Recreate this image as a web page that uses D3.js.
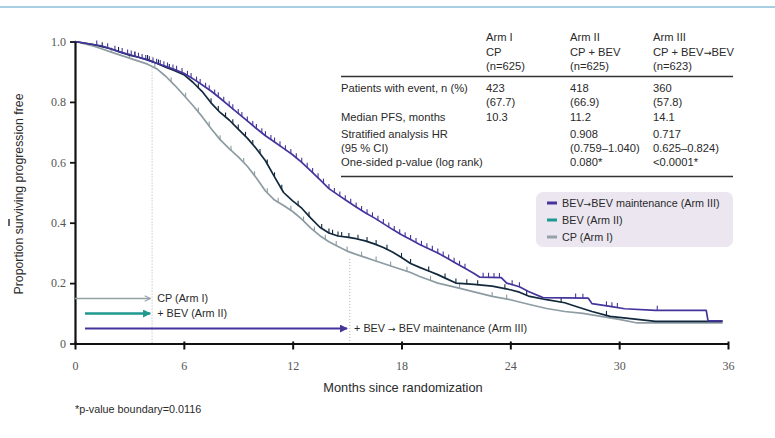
<!DOCTYPE html>
<html><head><meta charset="utf-8">
<script src="https://cdn.jsdelivr.net/npm/d3@7"></script>
<style>
body{margin:0;background:#fff;}
svg{display:block;}
.nar{font-family:"Liberation Sans Narrow","Arial Narrow","Liberation Sans",sans-serif;fill:#2a2a2a;}
.ser{font-family:"Liberation Serif","DejaVu Serif",serif;fill:#555;}
.arr{font-family:"DejaVu Sans",sans-serif;font-size:0.85em;}
</style></head><body>
<svg id="c" width="775" height="438"></svg>
<script>
// ---------- data ----------
const xTicks = [0, 6, 12, 18, 24, 30, 36];
const yTicks = [0, 0.2, 0.4, 0.6, 0.8, 1.0];
const yTickLabels = ["0", "0.2", "0.4", "0.6", "0.8", "1.0"];

const armIII = [[0,1.0],[0.5,0.995],[1,0.99],[1.5,0.985],[2,0.975],[2.5,0.965],[3,0.957],[3.5,0.948],[4,0.938],[4.5,0.928],[5,0.918],[5.5,0.907],[6,0.895],[6.5,0.877],[7,0.857],[7.5,0.836],[8,0.812],[8.5,0.787],[9,0.762],[9.5,0.737],[10,0.712],[10.5,0.688],[11,0.667],[11.5,0.646],[12,0.625],[12.5,0.6],[13,0.572],[13.5,0.543],[14,0.513],[14.5,0.492],[15,0.472],[15.5,0.452],[16,0.433],[16.5,0.416],[17,0.397],[17.5,0.378],[18,0.36],[18.5,0.344],[19,0.328],[19.5,0.314],[20,0.3],[20.5,0.283],[21,0.266],[21.5,0.249],[22,0.232],[22.3,0.22],[23.5,0.218],[23.8,0.2],[24.5,0.188],[25,0.172],[25.8,0.152],[28.3,0.15],[28.5,0.132],[29.6,0.122],[30.3,0.115],[32,0.11],[34.8,0.11],[34.9,0.075],[35.7,0.075]];
const armII = [[0,1.0],[0.5,0.995],[1,0.99],[1.5,0.983],[2,0.975],[2.5,0.965],[3,0.955],[3.5,0.948],[4,0.94],[4.5,0.928],[5,0.915],[5.5,0.903],[6,0.89],[6.5,0.865],[7,0.835],[7.5,0.797],[8,0.765],[8.5,0.74],[9,0.71],[9.5,0.68],[10,0.645],[10.5,0.605],[11,0.552],[11.5,0.5],[12,0.472],[12.5,0.448],[13,0.415],[13.5,0.385],[14,0.366],[14.5,0.356],[15,0.352],[15.5,0.347],[16,0.34],[16.5,0.33],[17,0.318],[17.5,0.303],[18,0.285],[18.5,0.265],[19,0.252],[19.5,0.24],[20,0.228],[20.5,0.214],[21,0.2],[22,0.196],[23,0.19],[24,0.178],[24.5,0.17],[25,0.157],[26,0.145],[27,0.135],[27.5,0.125],[28.5,0.106],[29.5,0.09],[31,0.08],[32,0.073],[35.7,0.073]];
const armI = [[0,1.0],[0.5,0.993],[1,0.985],[1.5,0.975],[2,0.965],[2.5,0.955],[3,0.945],[3.5,0.935],[4,0.925],[4.5,0.91],[5,0.885],[5.5,0.855],[6,0.822],[6.5,0.788],[7,0.752],[7.5,0.712],[8,0.675],[8.5,0.645],[9,0.618],[9.5,0.587],[10,0.548],[10.5,0.505],[11,0.475],[11.5,0.457],[12,0.437],[12.5,0.412],[13,0.382],[13.5,0.357],[14,0.337],[14.5,0.321],[15,0.306],[15.5,0.295],[16,0.285],[16.5,0.275],[17,0.265],[17.5,0.255],[18,0.245],[18.5,0.235],[19,0.222],[19.5,0.211],[20,0.2],[21,0.186],[22,0.171],[23,0.156],[24,0.145],[25,0.13],[26,0.116],[27,0.106],[28,0.1],[29,0.09],[30,0.08],[31,0.068],[35.7,0.068]];

const censorIII = [1.2,1.8,2.2,2.6,2.9,3.1,3.3,3.5,3.7,3.9,4.1,4.3,4.5,4.7,4.9,5.1,5.4,5.6,5.9,6.2,6.4,6.7,6.9,7.2,7.4,7.7,7.9,8.2,8.5,8.7,9.0,9.2,9.5,9.8,10.0,10.3,10.5,10.8,11.0,11.3,11.6,11.9,12.2,12.5,12.8,13.1,13.4,13.7,14.0,14.3,14.6,14.9,15.2,15.5,15.8,16.1,16.4,16.7,17.0,17.3,17.6,17.9,18.2,18.5,18.8,19.1,19.4,19.7,20.0,20.3,20.6,20.9,21.2,21.5,22.5,22.8,23.1,23.4,24.1,24.5,27.6,28.0,29.3,29.6,29.9,32.1];
const censorII = [1.5,2.4,3.3,4.0,4.6,5.2,6.8,7.5,7.9,8.3,8.7,9.0,9.4,9.8,10.2,10.6,11.0,11.4,12.3,12.9,13.6,14.0,14.2,14.5,14.7,15.1,15.6,16.1,16.6,17.2,18.0,18.5,19.5,20.4,21.0,21.6,22.2,23.7,24.9,26.8,29.3];
const censorI = [2.0,3.0,4.4,5.3,6.1,6.8,7.4,8.0,8.6,9.3,9.9,10.6,11.2,11.9,12.6,13.2,13.8,14.4,15.0,15.8,16.6,17.4,18.3,19.6,21.2,23.0,23.8,29.3];

const tableHeads = [["Arm I","CP","(n=625)"],["Arm II","CP + BEV","(n=625)"],["Arm III","CP + BEV\u2192BEV","(n=623)"]];
const rowLabels = [["Patients with event, n (%)"],["Median PFS, months"],["Stratified analysis HR","(95 % CI)"],["One-sided p-value (log rank)"]];
const rowValues = [
  [["423","(67.7)"],["418","(66.9)"],["360","(57.8)"]],
  [["10.3"],["11.2"],["14.1"]],
  [[],["0.908","(0.759\u20131.040)"],["0.717","0.625\u20130.824)"]],
  [[],["0.080*"],["<0.0001*"]]
];
const legendLabels = ["BEV\u2192BEV maintenance (Arm III)","BEV (Arm II)","CP (Arm I)"];
const cycleArrows = [
  {label:"CP (Arm I)", start:0, end:4.15},
  {label:"+ BEV (Arm II)", start:0.55, end:4.15},
  {label:"+ BEV \u2192 BEV maintenance (Arm III)", start:0.55, end:15.0}
];
const guideTimes = [4.25, 15.15];
const guideTops = [0.95, 0.28];

// ---------- drawing ----------
const svg = d3.select("#c");
const x = d3.scaleLinear().domain([0,36]).range([75,728]);
const y = d3.scaleLinear().domain([0,1]).range([343.5,41.5]);
const colIII = "#44359c", colII = "#12293d", colI = "#8d9ca2";
const colTeal = "#1f9990", colLegGray = "#95a3a8";

// text helper: renders the → glyph in a font that draws it well
function richText(sel, str){
  const parts = str.split("\u2192");
  parts.forEach((p,i)=>{
    if(i>0) sel.append("tspan").attr("class","arr").text("\u2192");
    sel.append("tspan").text(p);
  });
  return sel;
}

// top rule
svg.append("line").attr("x1",0).attr("x2",775).attr("y1",7).attr("y2",7)
  .attr("stroke","#a9cde3").attr("stroke-width",2);

// guide dotted lines
guideTimes.forEach((t,i)=>{
  svg.append("line").attr("x1",x(t)).attr("x2",x(t)).attr("y1",y(guideTops[i])).attr("y2",y(0))
    .attr("stroke","#9a9a9a").attr("stroke-width",0.8).attr("stroke-dasharray","1,2");
});

// curves
const line = d3.line().x(d=>x(d[0])).y(d=>y(d[1])).curve(d3.curveLinear);
const arms = [{d:armI,c:colI,cen:censorI},{d:armII,c:colII,cen:censorII},{d:armIII,c:colIII,cen:censorIII}];
arms.forEach(a=>{
  svg.append("path").datum(a.d).attr("d",line).attr("fill","none")
    .attr("stroke",a.c).attr("stroke-width",1.7).attr("stroke-linejoin","round");
  const bis = d3.bisector(d=>d[0]).right;
  const valAt = t=>{const i=bis(a.d,t); const p0=a.d[Math.max(0,i-1)], p1=a.d[Math.min(a.d.length-1,i)];
    if(p1[0]===p0[0]) return p0[1]; return p0[1]+(p1[1]-p0[1])*(t-p0[0])/(p1[0]-p0[0]);};
  svg.append("g").selectAll("line").data(a.cen).join("line")
    .attr("x1",d=>x(d)).attr("x2",d=>x(d))
    .attr("y1",d=>y(valAt(d))-4.5).attr("y2",d=>y(valAt(d))+0.5)
    .attr("stroke",a.c).attr("stroke-width",1.1);
});

// axes
const xAxis = svg.append("g").attr("transform",`translate(0,${y(0)})`)
  .call(d3.axisBottom(x).tickValues(xTicks).tickSize(6).tickSizeOuter(0).tickPadding(12));
xAxis.select(".domain").attr("stroke","#111").attr("stroke-width",2.2);
xAxis.selectAll(".tick line").attr("stroke","#111").attr("stroke-width",2).attr("y1",-2);
xAxis.selectAll(".tick text").attr("class","ser").attr("font-size",12);

const yAxis = svg.append("g").attr("transform",`translate(${x(0)},0)`)
  .call(d3.axisLeft(y).tickValues(yTicks).tickSize(5).tickSizeOuter(0).tickPadding(4)
    .tickFormat((d,i)=>yTickLabels[i]));
yAxis.select(".domain").attr("stroke","#111").attr("stroke-width",2.2);
yAxis.selectAll(".tick line").attr("stroke","#111").attr("stroke-width",1.8);
yAxis.selectAll(".tick text").attr("class","ser").attr("font-size",12);

// axis titles
svg.append("text").attr("class","nar").attr("x",403).attr("y",392).attr("text-anchor","middle")
  .attr("font-size",12.8).text("Months since randomization");
svg.append("text").attr("class","nar").attr("transform","translate(23,194) rotate(-90)")
  .attr("text-anchor","middle").attr("font-size",12.3).text("Proportion surviving progression free");
svg.append("line").attr("x1",9).attr("x2",9).attr("y1",219).attr("y2",226).attr("stroke","#333").attr("stroke-width",1.5);

// table
const colX = [486,570,653];
const fs = 11.2;
tableHeads.forEach((h,i)=>h.forEach((t,j)=>{
  richText(svg.append("text").attr("class","nar").attr("x",colX[i]).attr("y",41+j*14.5).attr("font-size",fs), t);
}));
svg.append("line").attr("x1",341).attr("x2",733).attr("y1",76.5).attr("y2",76.5).attr("stroke","#333").attr("stroke-width",1.3);
svg.append("line").attr("x1",341).attr("x2",733).attr("y1",176.5).attr("y2",176.5).attr("stroke","#333").attr("stroke-width",1.3);
const rowY = [92, 121, 138, 166];
rowLabels.forEach((r,i)=>r.forEach((t,j)=>{
  svg.append("text").attr("class","nar").attr("x",341).attr("y",rowY[i]+j*14).attr("font-size",fs).text(t);
}));
rowValues.forEach((r,i)=>r.forEach((cell,k)=>cell.forEach((t,j)=>{
  svg.append("text").attr("class","nar").attr("x",colX[k]).attr("y",rowY[i]+j*14).attr("font-size",fs).text(t);
})));

// legend
svg.append("rect").attr("x",536).attr("y",192).attr("width",197).attr("height",55).attr("rx",7)
  .attr("fill","#ebe6f0");
const legCols = [colIII, colTeal, colLegGray];
legendLabels.forEach((t,i)=>{
  const yy = 203 + i*17;
  svg.append("line").attr("x1",547).attr("x2",557).attr("y1",yy).attr("y2",yy).attr("stroke",legCols[i]).attr("stroke-width",3);
  richText(svg.append("text").attr("class","nar").attr("x",562).attr("y",yy+3.8).attr("font-size",10.8), t);
});

// cycle arrows
const defs = svg.append("defs");
defs.append("marker").attr("id","mOpen").attr("viewBox","0 0 10 10").attr("refX",9).attr("refY",5)
  .attr("markerWidth",7).attr("markerHeight",7).attr("markerUnits","userSpaceOnUse").attr("orient","auto")
  .append("path").attr("d","M1,1 L9,5 L1,9").attr("fill","none").attr("stroke",colLegGray).attr("stroke-width",1.6);
[["mTeal",colTeal],["mPurp",colIII]].forEach(([id,c])=>{
  defs.append("marker").attr("id",id).attr("viewBox","0 0 10 10").attr("refX",9).attr("refY",5)
    .attr("markerWidth",8).attr("markerHeight",8).attr("markerUnits","userSpaceOnUse").attr("orient","auto")
    .append("path").attr("d","M0,0 L10,5 L0,10 Z").attr("fill",c);
});
const arrowY = [298.5, 313.5, 328.5];
const arrowStyle = [[colLegGray,1.5,"mOpen"],[colTeal,2.4,"mTeal"],[colIII,2,"mPurp"]];
cycleArrows.forEach((a,i)=>{
  svg.append("line").attr("x1",x(a.start)).attr("x2",x(a.end)).attr("y1",arrowY[i]).attr("y2",arrowY[i])
    .attr("stroke",arrowStyle[i][0]).attr("stroke-width",arrowStyle[i][1]).attr("marker-end",`url(#${arrowStyle[i][2]})`);
  richText(svg.append("text").attr("class","nar").attr("x",x(a.end)+7).attr("y",arrowY[i]+3.8).attr("font-size",10.8), a.label);
});

// footnote
svg.append("text").attr("class","nar").attr("x",75).attr("y",413).attr("font-size",10.8).text("*p-value boundary=0.0116");
</script></body></html>
